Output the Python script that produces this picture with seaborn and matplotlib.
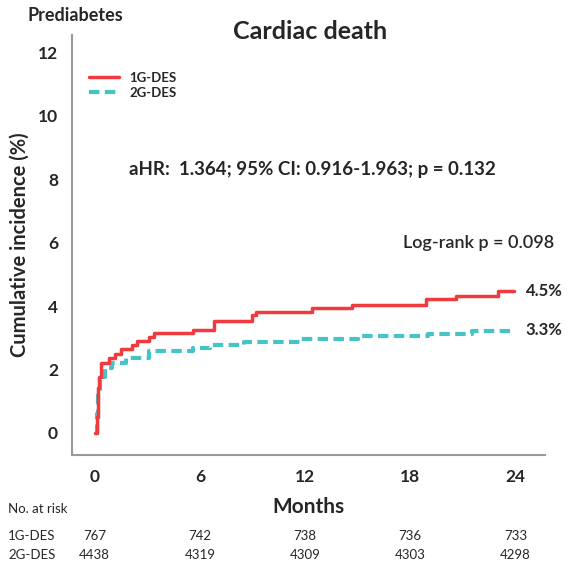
import matplotlib
matplotlib.use("Agg")
import matplotlib.pyplot as plt
import matplotlib.transforms as mtransforms
from matplotlib.lines import Line2D
import pandas as pd
import seaborn as sns

# Kaplan-Meier style cumulative incidence (months, %)
months_1g = [0, 0.1, 0.2, 0.25, 0.33, 0.8, 1.14, 1.5, 2.1, 2.4, 3.1, 3.4, 5.6, 6.8, 9.0, 9.2,
             12.4, 14.7, 18.9, 20.6, 23.0, 23.9]
inc_1g = [0, 0.5, 1.4, 1.75, 2.2, 2.37, 2.5, 2.65, 2.78, 2.9, 3.03, 3.15, 3.25, 3.54, 3.72, 3.82,
          3.94, 4.04, 4.22, 4.33, 4.48, 4.48]
months_2g = [0, 0.1, 0.2, 0.3, 0.57, 1.0, 1.8, 3.1, 5.6, 6.6, 8.5, 11.7, 15.0, 19.0, 21.5, 23.9]
inc_2g = [0, 0.6, 1.3, 1.75, 2.05, 2.2, 2.37, 2.57, 2.68, 2.78, 2.88, 2.95, 3.06, 3.12, 3.2, 3.25]

risk_times = [0, 6, 12, 18, 24]
risk_1g = [767, 742, 738, 736, 733]
risk_2g = [4438, 4319, 4309, 4303, 4298]

red = "#f03a3e"
cyan = "#45c3c6"

sns.set_style("white")
plt.rcParams["font.family"] = ["Lato", "DejaVu Sans"]

df1 = pd.DataFrame({"month": months_1g, "inc": inc_1g})
df2 = pd.DataFrame({"month": months_2g, "inc": inc_2g})

fig = plt.figure(figsize=(5.69, 5.65), dpi=100)
ax = fig.add_axes([0.1265, 0.1947, 0.8315, 0.7433])

sns.lineplot(data=df2, x="month", y="inc", ax=ax, color=cyan, linewidth=3,
             drawstyle="steps-post", linestyle=(0, (2.5, 1.3)), sort=False)
sns.lineplot(data=df1, x="month", y="inc", ax=ax, color=red, linewidth=2.5,
             drawstyle="steps-post", sort=False)

ax.set_xlim(-1.3, 25.7)
ax.set_ylim(-0.7, 12.55)
ax.set_xticks(risk_times)
ax.set_yticks([0, 2, 4, 6, 8, 10, 12])
for s in ["top", "right"]:
    ax.spines[s].set_visible(False)
for s in ["left", "bottom"]:
    ax.spines[s].set_color("#9a9a9a")
    ax.spines[s].set_linewidth(1.5)
ax.tick_params(axis="both", direction="out", length=4, width=1.5, color="#555555",
               labelsize=12.5, pad=6)
for lab in ax.get_xticklabels() + ax.get_yticklabels():
    lab.set_fontweight("bold")

ax.set_xlabel("")
ax.set_ylabel("Cumulative incidence (%)", fontsize=14.5, fontweight="bold", labelpad=6)

handles = [Line2D([0], [0], color=red, lw=2.5),
           Line2D([0], [0], color=cyan, lw=3, linestyle=(0, (2.5, 1.3)))]
ax.legend(handles, ["1G-DES", "2G-DES"], loc="upper left", bbox_to_anchor=(0.01, 0.94),
          frameon=False, handlelength=2.3, prop={"weight": "bold", "size": 9.5},
          labelspacing=0.2)

fig.text(0.048, 0.972, "Prediabetes", fontsize=13, fontweight="bold", ha="left", va="center")
fig.text(0.545, 0.945, "Cardiac death", fontsize=18, fontweight="bold", ha="center", va="center")

ax.text(12.4, 8.3, "aHR:  1.364; 95% CI: 0.916-1.963; p = 0.132", fontsize=13.5,
        fontweight="bold", ha="center", va="center")
ax.text(26.2, 6.0, "Log-rank p = 0.098", fontsize=13, fontweight="semibold",
        ha="right", va="center")
ax.text(24.6, inc_1g[-1], "4.5%", fontsize=12, fontweight="bold", ha="left", va="center")
ax.text(24.6, inc_2g[-1], "3.3%", fontsize=12, fontweight="bold", ha="left", va="center")

ax.text(0.5, -0.124, "Months", transform=ax.transAxes, fontsize=15, fontweight="bold",
        ha="center", va="center")

# number at risk table
trans = mtransforms.blended_transform_factory(ax.transData, ax.transAxes)
fig.text(0.014, 1 - 509 / 565, "No. at risk", fontsize=9.5, ha="left", va="center")
fig.text(0.014, 1 - 536 / 565, "1G-DES", fontsize=9.5, ha="left", va="center")
fig.text(0.014, 1 - 555 / 565, "2G-DES", fontsize=9.5, ha="left", va="center")
for t, a, b in zip(risk_times, risk_1g, risk_2g):
    ax.text(t, -0.193, str(a), transform=trans, fontsize=9.5, ha="center", va="center")
    ax.text(t, -0.238, str(b), transform=trans, fontsize=9.5, ha="center", va="center")

fig.savefig("out.png", dpi=100)
